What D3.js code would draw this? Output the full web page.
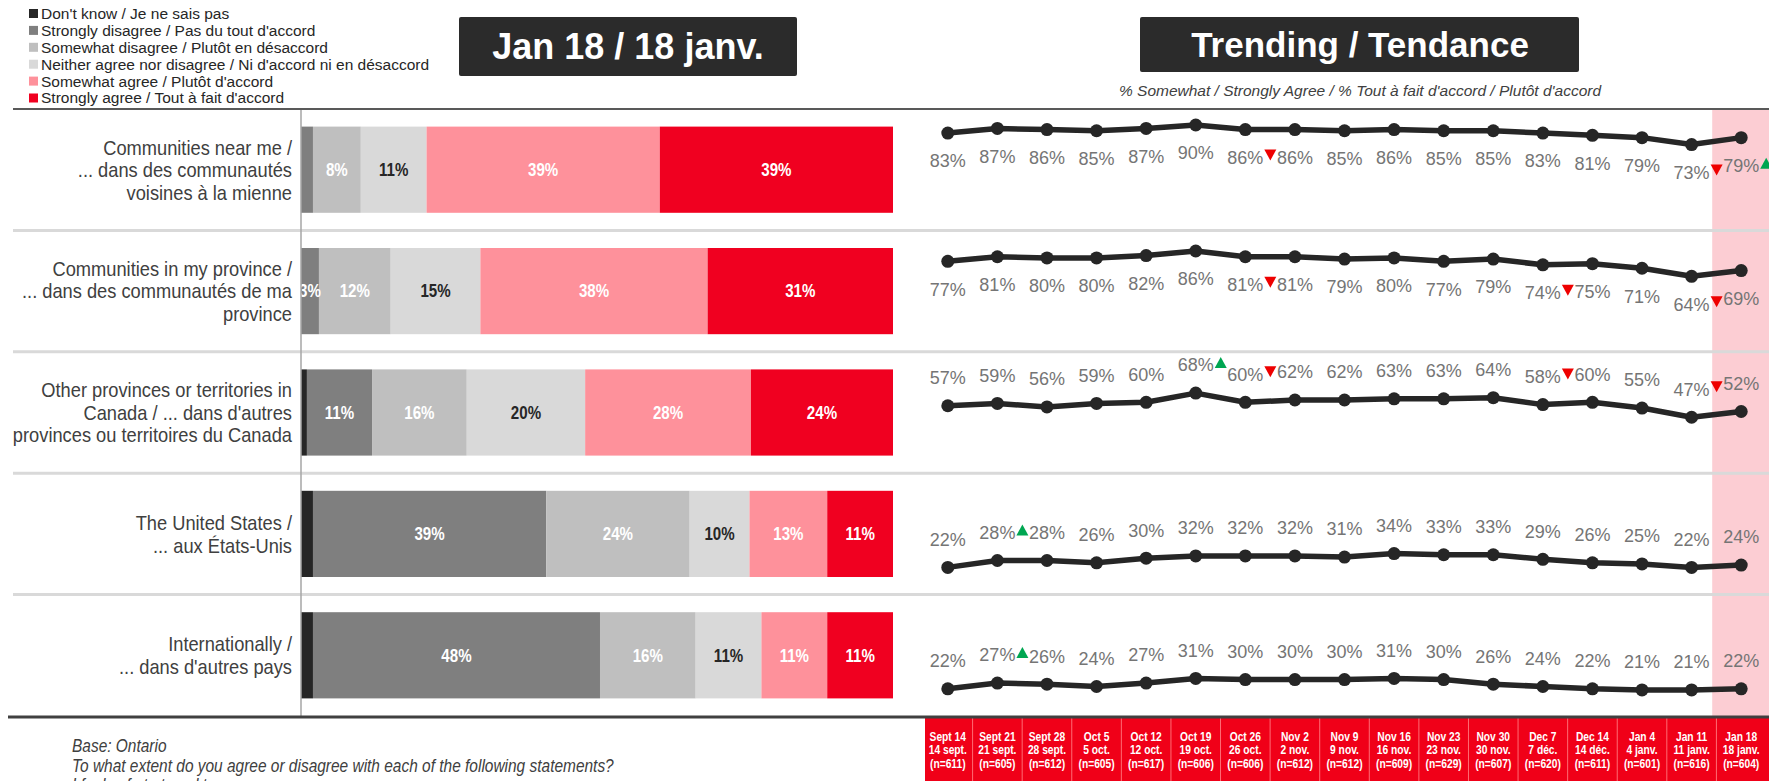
<!DOCTYPE html>
<html>
<head>
<meta charset="utf-8">
<script src="https://cdn.jsdelivr.net/npm/d3@7"></script>
<style>
  body { margin: 0; background: #fff; }
  svg { display: block; }
  text { font-family: 'Liberation Sans', Arial, sans-serif; }
</style>
</head>
<body>
<div id="chart"></div>
<script>
var width = 1769;
var height = 781;

// categories (statement rows)
var rowLabels = [
  ["Communities near me /", "... dans des communautés", "voisines à la mienne"],
  ["Communities in my province /", "... dans des communautés de ma", "province"],
  ["Other provinces or territories in", "Canada / ... dans d'autres", "provinces ou territoires du Canada"],
  ["The United States /", "... aux États-Unis"],
  ["Internationally /", "... dans d'autres pays"]
];

// response series (Jan 18)
var responses = ["Don't know / Je ne sais pas", "Strongly disagree / Pas du tout d'accord",
  "Somewhat disagree / Plutôt en désaccord", "Neither agree nor disagree / Ni d'accord ni en désaccord",
  "Somewhat agree / Plutôt d'accord", "Strongly agree / Tout à fait d'accord"];
var dontKnow         = [0, 0, 1, 2, 2];
var stronglyDisagree = [2, 3, 11, 39, 48];
var somewhatDisagree = [8, 12, 16, 24, 16];
var neither          = [11, 15, 20, 10, 11];
var somewhatAgree    = [39, 38, 28, 13, 11];
var stronglyAgree    = [39, 31, 24, 11, 11];

// trend waves
var wavesEn = ["Sept 14", "Sept 21", "Sept 28", "Oct 5", "Oct 12", "Oct 19", "Oct 26", "Nov 2", "Nov 9",
  "Nov 16", "Nov 23", "Nov 30", "Dec 7", "Dec 14", "Jan 4", "Jan 11", "Jan 18"];
var wavesFr = ["14 sept.", "21 sept.", "28 sept.", "5 oct.", "12 oct.", "19 oct.", "26 oct.", "2 nov.", "9 nov.",
  "16 nov.", "23 nov.", "30 nov.", "7 déc.", "14 déc.", "4 janv.", "11 janv.", "18 janv."];
var sampleN = [611, 605, 612, 605, 617, 606, 606, 612, 612, 609, 629, 607, 620, 611, 601, 616, 604];

// % somewhat / strongly agree
var trendNear     = [83, 87, 86, 85, 87, 90, 86, 86, 85, 86, 85, 85, 83, 81, 79, 73, 79];
var trendProvince = [77, 81, 80, 80, 82, 86, 81, 81, 79, 80, 77, 79, 74, 75, 71, 64, 69];
var trendCanada   = [57, 59, 56, 59, 60, 68, 60, 62, 62, 63, 63, 64, 58, 60, 55, 47, 52];
var trendUS       = [22, 28, 28, 26, 30, 32, 32, 32, 31, 34, 33, 33, 29, 26, 25, 22, 24];
var trendIntl     = [22, 27, 26, 24, 27, 31, 30, 30, 30, 31, 30, 26, 24, 22, 21, 21, 22];

// significant change markers (wave index)
var sigUp   = [[16], [], [5], [1], [1]];
var sigDown = [[6, 15], [6, 12, 15], [6, 12, 15], [], []];

var notes = ["Base: Ontario",
  "To what extent do you agree or disagree with each of the following statements?",
  "I feel safe to travel to...:"];

var colors = ["#262626", "#7f7f7f", "#bfbfbf", "#d9d9d9", "#fe919b", "#f00020"];
var labelColors = ["#fff", "#fff", "#fff", "#262626", "#fff", "#fff"];

var svg = d3.select("#chart").append("svg")
  .attr("width", width)
  .attr("height", height);

// narrow text: squeeze regular text horizontally around its anchor
function narrow(parent, x, y, sx) {
  return parent.append("g")
    .attr("transform", "translate(" + x + "," + y + ") scale(" + sx + ",1)")
    .append("text");
}

var top0 = 109, bottom0 = 717;

// ---------- legend
var legend = svg.append("g");
responses.forEach(function(r, i) {
  var y = 13.5 + i * 16.9;
  legend.append("rect").attr("x", 29).attr("y", y - 4.5).attr("width", 9).attr("height", 9).attr("fill", colors[i]);
  legend.append("text").attr("x", 41).attr("y", y).attr("dy", "0.35em")
    .style("font-size", "15.5px").attr("fill", "#262626").text(r);
});

// ---------- title boxes
svg.append("rect").attr("x", 459).attr("y", 17).attr("width", 338).attr("height", 59).attr("rx", 2).attr("fill", "#2b2b2b");
svg.append("text").attr("x", 628).attr("y", 59).attr("text-anchor", "middle")
  .style("font-size", "36px").style("font-weight", "bold").attr("fill", "#fff").text("Jan 18 / 18 janv.");

svg.append("rect").attr("x", 1140).attr("y", 17).attr("width", 439).attr("height", 55).attr("rx", 2).attr("fill", "#2b2b2b");
svg.append("text").attr("x", 1360).attr("y", 57).attr("text-anchor", "middle")
  .style("font-size", "35px").style("font-weight", "bold").attr("fill", "#fff").text("Trending / Tendance");
svg.append("text").attr("x", 1360).attr("y", 96).attr("text-anchor", "middle")
  .style("font-size", "15.5px").style("font-style", "italic").attr("fill", "#404040")
  .text("% Somewhat / Strongly Agree / % Tout à fait d'accord / Plutôt d'accord");

// ---------- scales
var rowIdx = d3.range(rowLabels.length);
var yRow = d3.scaleBand().domain(rowIdx).range([top0, bottom0 - 1]).paddingInner(0.29).paddingOuter(0.145);
var step = yRow.step();

var xBar = d3.scaleLinear().domain([0, 1]).range([301, 893]);
var xWave = d3.scaleBand().domain(wavesEn).range([923, 1766]);
function xPt(w) { return xWave(w) + xWave.bandwidth() / 2; }

// highlight column for latest wave
var lastX = xPt(wavesEn[wavesEn.length - 1]);
svg.append("rect")
  .attr("x", lastX - 29).attr("y", top0)
  .attr("width", width - lastX + 29).attr("height", bottom0 - top0)
  .attr("fill", "#fccdd3");

// row separators
svg.selectAll(".sep").data(d3.range(1, rowLabels.length)).enter().append("line")
  .attr("x1", 13).attr("x2", width)
  .attr("y1", function(d) { return top0 + d * step; })
  .attr("y2", function(d) { return top0 + d * step; })
  .attr("stroke", "#d9d9d9").attr("stroke-width", 3);

// ---------- stacked bars
var table = rowIdx.map(function(i) {
  return { r: i, k0: dontKnow[i], k1: stronglyDisagree[i], k2: somewhatDisagree[i],
           k3: neither[i], k4: somewhatAgree[i], k5: stronglyAgree[i] };
});
var keys = ["k0", "k1", "k2", "k3", "k4", "k5"];
var series = d3.stack().keys(keys).offset(d3.stackOffsetExpand)(table);

var layers = svg.selectAll(".layer").data(series).enter().append("g")
  .attr("fill", function(d, i) { return colors[i]; });

layers.selectAll("rect").data(function(d) { return d; }).enter().append("rect")
  .attr("x", function(d) { return xBar(d[0]); })
  .attr("width", function(d) { return xBar(d[1]) - xBar(d[0]); })
  .attr("y", function(d) { return yRow(d.data.r); })
  .attr("height", yRow.bandwidth());

var barLabels = svg.append("g");
series.forEach(function(s, si) {
  if (si === 0) return;
  s.forEach(function(d) {
    var v = d.data[s.key];
    if (v < 3) return;
    narrow(barLabels, (xBar(d[0]) + xBar(d[1])) / 2, yRow(d.data.r) + yRow.bandwidth() / 2, 0.84)
      .attr("dy", "0.35em").attr("text-anchor", "middle")
      .style("font-size", "18px").style("font-weight", "bold")
      .attr("fill", labelColors[si])
      .text(v + "%");
  });
});

// category labels
rowLabels.forEach(function(lines, i) {
  var cy = yRow(i) + yRow.bandwidth() / 2;
  var t = narrow(svg, 292, cy, 0.87)
    .attr("text-anchor", "end").style("font-size", "21px").attr("fill", "#404040");
  lines.forEach(function(l, j) {
    t.append("tspan").attr("x", 0)
      .attr("y", (j - (lines.length - 1) / 2) * 22.5)
      .attr("dy", "0.35em").text(l);
  });
});

// left axis
svg.append("line").attr("x1", 301).attr("x2", 301).attr("y1", top0).attr("y2", bottom0)
  .attr("stroke", "#a6a6a6").attr("stroke-width", 1.5);

// ---------- trend lines
var trends = [trendNear, trendProvince, trendCanada, trendUS, trendIntl];
trends.forEach(function(vals, i) {
  var rt = top0 + i * step;
  var y = d3.scaleLinear().domain([0, 100]).range([rt + 119.5, rt + 4.5]);
  var off = i < 2 ? 28 : -28;
  var g = svg.append("g");
  var line = d3.line()
    .x(function(d, j) { return xPt(wavesEn[j]); })
    .y(function(d) { return y(d); });
  g.append("path").datum(vals).attr("d", line)
    .attr("fill", "none").attr("stroke", "#262626").attr("stroke-width", 5.5).attr("stroke-linejoin", "round");
  g.selectAll("circle").data(vals).enter().append("circle")
    .attr("cx", function(d, j) { return xPt(wavesEn[j]); })
    .attr("cy", function(d) { return y(d); })
    .attr("r", 6.5).attr("fill", "#262626");
  g.selectAll("text").data(vals).enter().append("text")
    .attr("x", function(d, j) { return xPt(wavesEn[j]); })
    .attr("y", function(d) { return y(d) + off; })
    .attr("dy", "0.35em").attr("text-anchor", "middle")
    .style("font-size", "18px").attr("fill", "#757575")
    .text(function(d) { return d + "%"; });

  function tri(j, up) {
    var cx = xPt(wavesEn[j]) + 25;
    var cy = y(vals[j]) + off - 2;
    var p = up ? [[cx - 6, cy + 5], [cx + 6, cy + 5], [cx, cy - 6]]
               : [[cx - 6, cy - 6], [cx + 6, cy - 6], [cx, cy + 5]];
    g.append("path").attr("d", "M" + p.join("L") + "Z").attr("fill", up ? "#00a651" : "#ee0000");
  }
  sigUp[i].forEach(function(j) { tri(j, true); });
  sigDown[i].forEach(function(j) { tri(j, false); });
});

// ---------- top / bottom rules
svg.append("line").attr("x1", 13).attr("x2", width).attr("y1", top0).attr("y2", top0)
  .attr("stroke", "#595959").attr("stroke-width", 2);

// footer with wave labels
svg.append("rect").attr("x", 925).attr("y", bottom0).attr("width", width - 925).attr("height", height - bottom0)
  .attr("fill", "#f00018");
svg.selectAll(".fsep").data(wavesEn.slice(1)).enter().append("line")
  .attr("x1", function(d) { return xWave(d); }).attr("x2", function(d) { return xWave(d); })
  .attr("y1", bottom0).attr("y2", height)
  .attr("stroke", "#ff6b74").attr("stroke-width", 1);
wavesEn.forEach(function(w, j) {
  var t = narrow(svg, xPt(w), 741, 0.82).attr("text-anchor", "middle")
    .style("font-size", "12.5px").style("font-weight", "bold").attr("fill", "#fff");
  [w, wavesFr[j], "(n=" + sampleN[j] + ")"].forEach(function(l, k) {
    t.append("tspan").attr("x", 0).attr("y", k * 13.5).text(l);
  });
});

svg.append("line").attr("x1", 8).attr("x2", width).attr("y1", bottom0).attr("y2", bottom0)
  .attr("stroke", "#404040").attr("stroke-width", 3);

// notes
notes.forEach(function(n, i) {
  narrow(svg, 72, 752 + i * 19.5, 0.86)
    .style("font-size", "18px").style("font-style", "italic").attr("fill", "#404040").text(n);
});
</script>
</body>
</html>
